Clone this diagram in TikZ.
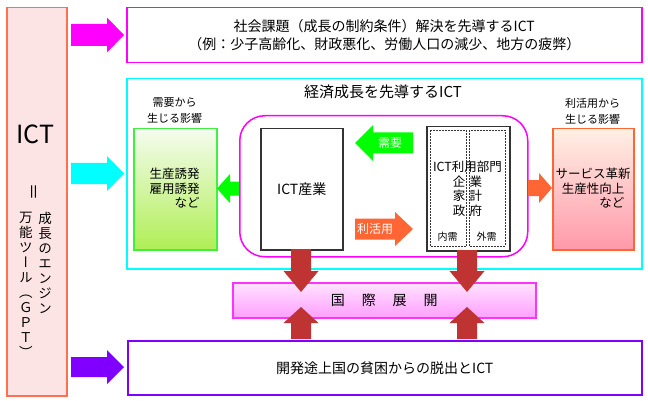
\documentclass[tikz,border=0pt]{standalone}
\usepackage{fontspec}
\setmainfont{Noto Sans CJK JP}
\newfontfamily\vjp[RawFeature=+vert]{Noto Sans CJK JP}
\definecolor{ictfill}{HTML}{FDE4E4}
\definecolor{ictline}{HTML}{FF7050}
\definecolor{mag}{HTML}{FF00FF}
\definecolor{cya}{HTML}{00FFFF}
\definecolor{pur}{HTML}{8000FF}
\definecolor{grn}{HTML}{00FF00}
\definecolor{grnline}{HTML}{40F040}
\definecolor{grntop}{HTML}{F5FCEF}
\definecolor{grnbot}{HTML}{B0EE55}
\definecolor{org}{HTML}{FF6633}
\definecolor{rtop}{HTML}{FFF0E4}
\definecolor{rbot}{HTML}{FF99AA}
\definecolor{ktop}{HTML}{FFE4FF}
\definecolor{kbot}{HTML}{FF9EFF}
\definecolor{kline}{HTML}{FF33FF}
\definecolor{dred}{HTML}{BF3333}
\definecolor{dk}{HTML}{333333}
\newcommand\harr[7]{\fill[#1] ({#2},{#5-#6}) -- ({#3},{#5-#6}) -- ({#3},{#5-#7}) -- ({#4},{#5}) -- ({#3},{#5+#7}) -- ({#3},{#5+#6}) -- ({#2},{#5+#6}) -- cycle;}
\newcommand\varr[7]{\fill[#1] ({#5-#6},{#2}) -- ({#5-#6},{#3}) -- ({#5-#7},{#3}) -- ({#5},{#4}) -- ({#5+#7},{#3}) -- ({#5+#6},{#3}) -- ({#5+#6},{#2}) -- cycle;}
\begin{document}
\begin{tikzpicture}[x=1pt,y=-1pt,
  box/.style={draw, line width=1.5pt, inner sep=0pt, anchor=north west, align=center},
  txt/.style={inner sep=0pt, align=center},
  f11/.style={font=\fontsize{11}{16}\selectfont},
  f12/.style={font=\fontsize{12.5}{14.5}\selectfont},
  f14/.style={font=\fontsize{14}{18.5}\selectfont}]
\useasboundingbox (0,0) rectangle (648,401);
\fill[white] (0,0) rectangle (648,401);

% left ICT column
\node[box, draw=ictline, fill=ictfill, minimum width=60pt, minimum height=388pt] (ict) at (6,7) {};
\node[txt, font=\fontsize{25}{25}\selectfont] (icttxt) at (35.5,134) {ICT};
\node[txt, font=\fontsize{17}{17}\selectfont, rotate=90] (eq) at (36.5,192) {＝};
\node[txt, anchor=north, font=\vjp\fontsize{13.5}{15}\selectfont] (eng) at (45,212) {成\\長\\の\\エ\\ン\\ジ\\ン};
\node[txt, anchor=north, font=\vjp\fontsize{13.5}{15}\selectfont] (gpt) at (26,212) {万\\能\\ツ\\ー\\ル\\（\\Ｇ\\Ｐ\\Ｔ\\）};

% right-hand boxes
\node[box, draw=mag, minimum width=515pt, minimum height=55pt, f14] (top) at (126,7)
  {社会課題（成長の制約条件）解決を先導するICT\\（例：少子高齢化、財政悪化、労働人口の減少、地方の疲弊）};
\node[box, draw=cya, minimum width=515pt, minimum height=190pt] (mid) at (126,78) {};
\node[txt, font=\fontsize{15}{15}\selectfont] (midtitle) at (383,92) {経済成長を先導するICT};
\node[box, draw=pur, minimum width=514pt, minimum height=54pt, f14] (bot) at (127,340) {開発途上国の貧困からの脱出とICT};

% inside the cyan box
\node[box, draw=grnline, top color=grntop, bottom color=grnbot, minimum width=83pt, minimum height=121pt] (gbox) at (133,128) {};
\node[txt, align=right, f12] (gtxt) at (174.5,188.5) {生産誘発\\雇用誘発\\など};
\node[txt, f11] (glab) at (174.5,111) {需要から\\生じる影響};

\node[box, draw=mag, rounded corners=25pt, minimum width=288pt, minimum height=141pt] (core) at (239,115) {};
\node[box, draw=dk, fill=white, minimum width=82pt, minimum height=121pt, font=\fontsize{14}{14}\selectfont] (ind) at (260,128) {ICT産業};
\node[box, draw=dk, fill=white, minimum width=83pt, minimum height=124pt] (user) at (426,126) {};
\draw[dk, line width=0.7pt, dash pattern=on 1.6pt off 1.4pt] (430,130) rectangle (466.5,246);
\draw[dk, line width=0.7pt, dash pattern=on 1.6pt off 1.4pt] (469,130) rectangle (505,246);
\node[txt, f12] (usertxt) at (467.5,189) {ICT利用部門\\企\hspace{4.5pt}業\\家\hspace{4.5pt}計\\政\hspace{4.5pt}府};
\node[txt, font=\fontsize{10}{10}\selectfont] (naiju) at (447.5,237) {内需};
\node[txt, font=\fontsize{10}{10}\selectfont] (gaiju) at (486.5,237) {外需};

\node[box, draw=org, top color=rtop, bottom color=rbot, minimum width=81pt, minimum height=121pt] (rbox) at (552,128) {};
\node[txt, f12] (rtxt) at (593,188.5) {サービス革新\\生産性向上\\\phantom{生産性}など};
\node[txt, f11] (rlab) at (592.5,111) {利活用から\\生じる影響};

% block arrows from ICT column
\harr{mag}{71}{107}{124}{35}{11}{17.5}
\harr{cya}{71}{107}{124}{173.5}{10.5}{17.5}
\harr{pur}{71}{107}{124}{367}{10}{17}

% arrows inside
\harr{grn}{239}{230}{217}{188.5}{7}{14.5}
\harr{grn}{413}{373}{355}{143}{10.5}{18}
\node[txt, white, font=\fontsize{12}{12}\selectfont] (juyo) at (390,143) {需要};
\harr{org}{355}{395}{413}{229}{10.5}{17}
\node[txt, white, font=\fontsize{12}{12}\selectfont] (rikatsu) at (375,229) {利活用};
\harr{org}{528}{539}{552}{188}{8}{15}

% international
\node[box, draw=kline, top color=ktop, bottom color=kbot, minimum width=303pt, minimum height=35pt, font=\fontsize{14}{14}\selectfont] (kok) at (232,282) {国\hspace{17pt}際\hspace{17pt}展\hspace{17pt}開};
\varr{dred}{249}{271}{292}{301}{10}{17.5}
\varr{dred}{250}{271}{292}{467}{10}{17.5}
\varr{dred}{339}{323}{307}{301}{10}{17.5}
\varr{dred}{339}{323}{307}{467}{10}{17.5}
\end{tikzpicture}
\end{document}
